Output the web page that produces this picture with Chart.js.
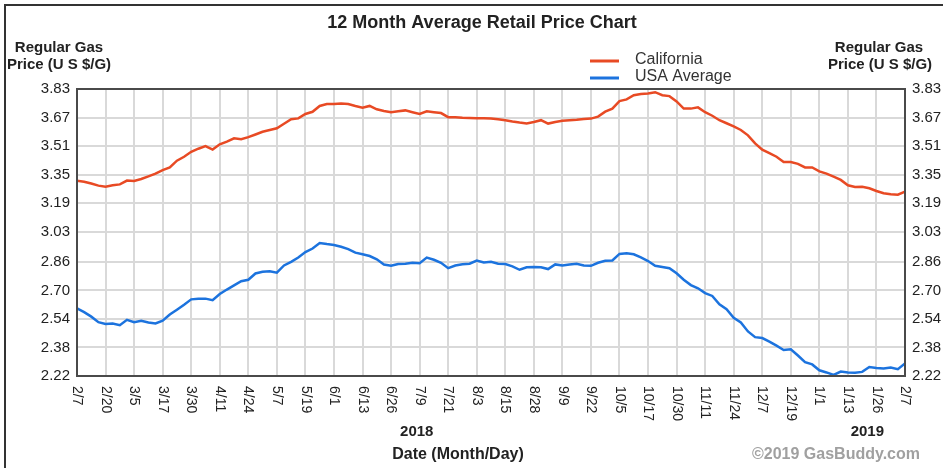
<!DOCTYPE html>
<html>
<head>
<meta charset="utf-8">
<script src="https://cdn.jsdelivr.net/npm/chart.js@4"></script>
<style>
  body { margin: 0; background: #fff; }
  canvas { display: block; }
</style>
</head>
<body>
<canvas id="myChart" width="947" height="468"></canvas>
<script>
// tick labels along the bottom (one every ~12.6 days)
const dateLabels = [
    '2/7', '2/20', '3/5', '3/17', '3/30', '4/11', '4/24', '5/7', '5/19', '6/1',
    '6/13', '6/26', '7/9', '7/21', '8/3', '8/15', '8/28', '9/9', '9/22', '10/5',
    '10/17', '10/30', '11/11', '11/24', '12/7', '12/19', '1/1', '1/13', '1/26', '2/7'
];

const priceTicks = [2.22, 2.38, 2.54, 2.70, 2.86, 3.03, 3.19, 3.35, 3.51, 3.67, 3.83];

// samples, 4 per tick interval
const perTick = 4;

const california = [
    3.315, 3.31, 3.30, 3.288, 3.282, 3.29, 3.295, 3.316,
    3.314, 3.325, 3.34, 3.355, 3.375, 3.39, 3.428, 3.45,
    3.478, 3.495, 3.51, 3.49, 3.52, 3.535, 3.553, 3.548,
    3.56, 3.575, 3.59, 3.60, 3.61, 3.635, 3.66, 3.665,
    3.69, 3.702, 3.735, 3.746, 3.746, 3.748, 3.746, 3.735,
    3.725, 3.735, 3.716, 3.707, 3.70, 3.705, 3.71, 3.70,
    3.69, 3.705, 3.70, 3.695, 3.672, 3.672, 3.669, 3.668,
    3.666, 3.666, 3.665, 3.66, 3.655, 3.648, 3.642, 3.637,
    3.645, 3.655, 3.636, 3.645, 3.652, 3.655, 3.658, 3.662,
    3.664, 3.675, 3.703, 3.72, 3.762, 3.772, 3.795, 3.802,
    3.805, 3.812, 3.795, 3.79, 3.76, 3.72, 3.72, 3.727,
    3.70, 3.68, 3.655, 3.638, 3.62, 3.60, 3.57, 3.525,
    3.49, 3.47, 3.45, 3.42, 3.42, 3.41, 3.39, 3.39,
    3.368, 3.355, 3.338, 3.32, 3.29, 3.28, 3.282, 3.273,
    3.258, 3.245, 3.24, 3.237, 3.254
];

const usaAverage = [
    2.60, 2.578, 2.553, 2.522, 2.512, 2.515, 2.505, 2.535,
    2.522, 2.53, 2.52, 2.515, 2.53, 2.565, 2.592, 2.62,
    2.65, 2.653, 2.654, 2.645, 2.68, 2.705, 2.728, 2.752,
    2.76, 2.795, 2.805, 2.808, 2.80, 2.84, 2.86, 2.885,
    2.915, 2.935, 2.966, 2.96, 2.955, 2.945, 2.932, 2.912,
    2.903, 2.893, 2.875, 2.845, 2.838, 2.848, 2.85, 2.855,
    2.852, 2.884, 2.872, 2.855, 2.825, 2.84, 2.847, 2.85,
    2.868, 2.857, 2.861, 2.85, 2.848, 2.835, 2.816, 2.83,
    2.832, 2.83, 2.82, 2.846, 2.84, 2.845, 2.85, 2.84,
    2.838, 2.855, 2.866, 2.868, 2.905, 2.908, 2.903, 2.885,
    2.865, 2.838, 2.832, 2.825, 2.796, 2.76, 2.73, 2.712,
    2.685, 2.669, 2.622, 2.595, 2.547, 2.52, 2.47, 2.438,
    2.433, 2.413, 2.39, 2.366, 2.37, 2.335, 2.298, 2.285,
    2.252, 2.24, 2.226, 2.245, 2.24, 2.238, 2.243, 2.27,
    2.265, 2.262, 2.268, 2.258, 2.29
];

const seriesNames = ['California', 'USA Average'];
const seriesColors = ['rgb(232, 74, 36)', 'rgb(28, 115, 222)'];

const FONT = '"Liberation Sans", Arial, sans-serif';
const toPoints = (arr) => arr.map((v, i) => ({ x: i / perTick, y: v }));

const extras = {
    id: 'extras',
    afterDraw(chart) {
        const ctx = chart.ctx;
        const area = chart.chartArea;
        const xs = chart.scales.x;
        ctx.save();

        // outer frame (top and left only, as in the picture)
        ctx.strokeStyle = '#333';
        ctx.lineWidth = 2;
        ctx.beginPath();
        ctx.moveTo(5, 468);
        ctx.lineTo(5, 5);
        ctx.lineTo(943, 5);
        ctx.stroke();

        // plot frame
        ctx.strokeStyle = '#4a4a4a';
        ctx.strokeRect(area.left, area.top, area.right - area.left, area.bottom - area.top);

        ctx.fillStyle = '#222';
        ctx.textBaseline = 'middle';
        ctx.textAlign = 'center';

        ctx.font = 'bold 18px ' + FONT;
        ctx.fillText('12 Month Average Retail Price Chart', 482, 23);

        ctx.font = 'bold 15px ' + FONT;
        ctx.fillText('Regular Gas', 59, 48);
        ctx.fillText('Price (U S $/G)', 59, 65);
        ctx.fillText('Regular Gas', 879, 48);
        ctx.fillText('Price (U S $/G)', 880, 65);

        // legend
        ctx.font = '16px ' + FONT;
        ctx.textAlign = 'left';
        seriesNames.forEach((name, i) => {
            const y = 60 + i * 17;
            ctx.strokeStyle = seriesColors[i];
            ctx.lineWidth = 3;
            ctx.beginPath();
            ctx.moveTo(590, y + 1);
            ctx.lineTo(619, y + 1);
            ctx.stroke();
            ctx.fillStyle = '#333';
            ctx.fillText(name, 635, y);
        });

        // rotated date labels
        ctx.fillStyle = '#222';
        ctx.font = '14px ' + FONT;
        dateLabels.forEach((lab, i) => {
            ctx.save();
            ctx.translate(xs.getPixelForValue(i), area.bottom + 10);
            ctx.rotate(Math.PI / 2);
            ctx.textAlign = 'left';
            ctx.textBaseline = 'middle';
            ctx.fillText(lab, 0, 0);
            ctx.restore();
        });

        ctx.textAlign = 'center';
        ctx.font = 'bold 15px ' + FONT;
        ctx.fillText('2018', xs.getPixelForValue(11.9), 432);
        ctx.fillText('2019', xs.getPixelForValue(27.68), 432);
        ctx.font = 'bold 16px ' + FONT;
        ctx.fillText('Date (Month/Day)', 458, 455);

        ctx.fillStyle = '#a0a0a0';
        ctx.fillText('\u00A92019 GasBuddy.com', 836, 455);

        ctx.restore();
    }
};

const yAxis = (position, width) => ({
    type: 'linear',
    position: position,
    min: 2.22,
    max: 3.83,
    afterBuildTicks: (scale) => {
        scale.ticks = priceTicks.map((v) => ({ value: v }));
    },
    afterFit: (scale) => {
        scale.width = width;
    },
    ticks: {
        color: '#222',
        padding: 7,
        font: { family: FONT, size: 15 },
        callback: (v) => v.toFixed(2)
    },
    border: { display: false },
    grid: {
        drawOnChartArea: position === 'left',
        drawTicks: false,
        color: '#d9d9d9',
        lineWidth: 2
    }
});

const config = {
    type: 'line',
    data: {
        datasets: [{
            label: seriesNames[0],
            data: toPoints(california),
            borderColor: seriesColors[0],
            borderWidth: 2.5,
            pointRadius: 0,
            tension: 0,
            yAxisID: 'y'
        }, {
            label: seriesNames[1],
            data: toPoints(usaAverage),
            borderColor: seriesColors[1],
            borderWidth: 2.5,
            pointRadius: 0,
            tension: 0,
            yAxisID: 'y'
        }]
    },
    options: {
        responsive: false,
        animation: false,
        devicePixelRatio: 1,
        layout: { padding: { top: 89, left: 0, right: 0, bottom: 0 } },
        scales: {
            x: {
                type: 'linear',
                min: 0,
                max: dateLabels.length - 1,
                afterBuildTicks: (scale) => {
                    scale.ticks = dateLabels.map((_, i) => ({ value: i }));
                },
                afterFit: (scale) => {
                    scale.height = 92;
                },
                ticks: { display: false },
                border: { display: false },
                grid: {
                    drawTicks: false,
                    color: '#d9d9d9',
                    lineWidth: 2
                }
            },
            y: yAxis('left', 77),
            y2: yAxis('right', 42)
        },
        plugins: {
            legend: { display: false },
            tooltip: { enabled: false },
            title: { display: false }
        }
    },
    plugins: [extras]
};

const myChart = new Chart(
    document.getElementById('myChart'),
    config
);
</script>
</body>
</html>
